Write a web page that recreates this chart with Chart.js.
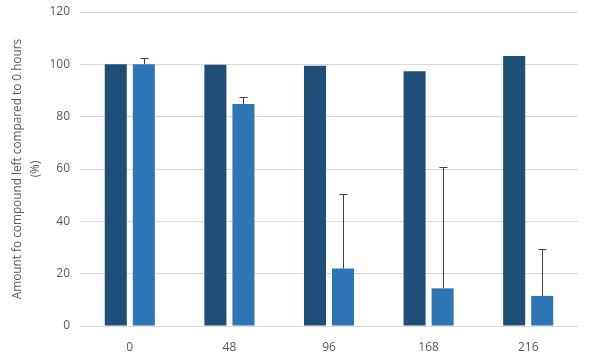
<!DOCTYPE html>
<html lang="en">
<head>
  <meta charset="UTF-8">
  <title>Compound left</title>
  <script src="https://cdn.jsdelivr.net/npm/chart.js"></script>
  <style>
    html, body { margin: 0; padding: 0; background: #fff; }
    #wrap { width: 590px; height: 359px; }
  </style>
</head>
<body>
  <div id="wrap"><canvas id="chart"></canvas></div>

  <script>
    // hours
    const hours = ['0', '48', '96', '168', '216'];
    // control series and treated series (% left)
    const control = [100, 99.8, 99.5, 97.4, 103.2];
    const treated = [100, 84.8, 22.0, 14.4, 11.5];
    // upper error for treated series
    const treatedErr = [2.3, 2.6, 28.3, 46.5, 17.8];
    const yTicks = [0, 20, 40, 60, 80, 100, 120];

    const textColor = '#595959';
    const fontFamily = '"Open Sans", "Noto Sans", sans-serif';

    // draws the upper error bars on the treated bars
    const errorBars = {
      id: 'errorBars',
      afterDatasetsDraw(chart) {
        const ctx = chart.ctx;
        const yScale = chart.scales.y;
        const meta = chart.getDatasetMeta(1);
        ctx.save();
        ctx.strokeStyle = '#404040';
        ctx.lineWidth = 1;
        meta.data.forEach((bar, i) => {
          const x = Math.round(bar.x) + 0.5;
          const yTop = yScale.getPixelForValue(treated[i] + treatedErr[i]);
          const yBase = yScale.getPixelForValue(treated[i]);
          ctx.beginPath();
          ctx.moveTo(x, yBase);
          ctx.lineTo(x, Math.round(yTop) + 0.5);
          ctx.moveTo(x - 4, Math.round(yTop) + 0.5);
          ctx.lineTo(x + 4, Math.round(yTop) + 0.5);
          ctx.stroke();
        });
        ctx.restore();
      }
    };

    new Chart(document.getElementById('chart').getContext('2d'), {
      type: 'bar',
      data: {
        labels: hours,
        datasets: [
          { label: 'Control', data: control, backgroundColor: '#1F4E79' },
          { label: 'Treated', data: treated, backgroundColor: '#2E75B6' }
        ]
      },
      options: {
        responsive: true,
        maintainAspectRatio: false,
        animation: false,
        layout: { padding: { left: 8, right: 12, top: 0, bottom: 0 } },
        datasets: { bar: { categoryPercentage: 0.563, barPercentage: 0.786 } },
        plugins: {
          legend: { display: false },
          tooltip: { enabled: false }
        },
        scales: {
          x: {
            grid: { display: false },
            border: { display: false },
            afterFit(axis) { axis.height = 33; },
            ticks: { color: textColor, font: { family: fontFamily, size: 12 }, padding: 6 }
          },
          y: {
            min: 0,
            max: 120,
            afterBuildTicks(axis) { axis.ticks = yTicks.map(v => ({ value: v })); },
            afterFit(axis) { axis.width = 72; axis.paddingTop = 12; axis.paddingBottom = 0; },
            grid: { color: '#d9d9d9', drawTicks: false },
            border: { display: false },
            ticks: { color: textColor, font: { family: fontFamily, size: 12 }, padding: 10 },
            title: {
              display: true,
              text: ['Amount fo compound left compared to 0 hours', '(%)'],
              color: textColor,
              font: { family: fontFamily, size: 11.8, lineHeight: 1.55 },
              padding: 0
            }
          }
        }
      },
      plugins: [errorBars]
    });
  </script>
</body>
</html>
